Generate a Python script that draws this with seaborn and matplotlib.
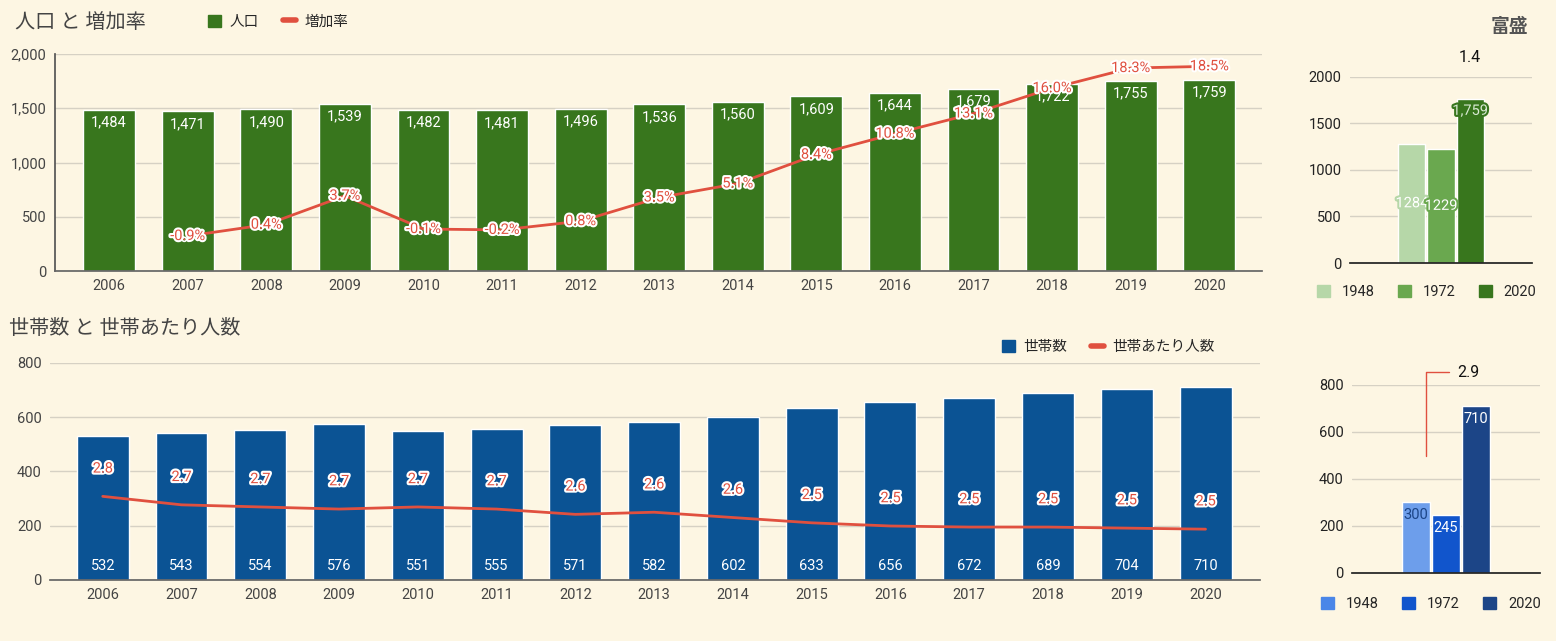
import numpy as np
import pandas as pd
import matplotlib
matplotlib.use("Agg")
import matplotlib.pyplot as plt
import matplotlib.patheffects as pe
from matplotlib.patches import Patch
from matplotlib.lines import Line2D
import seaborn as sns

# data
years = [str(y) for y in range(2006, 2021)]
population = [1484, 1471, 1490, 1539, 1482, 1481, 1496, 1536, 1560, 1609, 1644, 1679, 1722, 1755, 1759]
growth_years = years[1:]
growth_rate = [-0.9, 0.4, 3.7, -0.1, -0.2, 0.8, 3.5, 5.1, 8.4, 10.8, 13.1, 16.0, 18.3, 18.5]
households = [532, 543, 554, 576, 551, 555, 571, 582, 602, 633, 656, 672, 689, 704, 710]
per_household = [2.79, 2.71, 2.69, 2.67, 2.69, 2.67, 2.62, 2.64, 2.59, 2.54, 2.51, 2.50, 2.50, 2.49, 2.48]

cmp_years = ["1948", "1972", "2020"]
cmp_population = [1284, 1229, 1759]
cmp_households = [300, 245, 710]
cmp_pop_ratio = 1.4
cmp_hh_ratio = 2.9

BG = "#fdf6e3"
GRID = "#d6d1c4"
GREEN = "#38761d"
BLUE = "#0b5394"
RED = "#e0503f"
TXT = "#444444"
greens = ["#b6d7a8", "#6aa84f", "#38761d"]
blues = ["#6d9eeb", "#1155cc", "#1c4587"]
blues_leg = ["#4a86e8", "#1155cc", "#1c4587"]

sns.set_theme(style="white")
plt.rcParams["font.family"] = ["Roboto", "Noto Sans CJK JP", "DejaVu Sans"]
plt.rcParams["axes.facecolor"] = BG
plt.rcParams["figure.facecolor"] = BG

fig = plt.figure(figsize=(15.56, 6.41), dpi=100)
halo = [pe.withStroke(linewidth=3, foreground="white")]


def style_axis(ax, left_spine):
    ax.yaxis.grid(True, color=GRID, lw=1)
    ax.set_axisbelow(True)
    for s in ["top", "right"]:
        ax.spines[s].set_visible(False)
    ax.spines["left"].set_visible(left_spine)
    ax.spines["left"].set_color("#555555")
    ax.spines["bottom"].set_color("#666666")
    ax.tick_params(axis="both", length=0, labelsize=10.5, colors=TXT, pad=6)
    ax.set_xlabel("")
    ax.set_ylabel("")


# --- 人口 と 増加率
ax1 = fig.add_axes([0.0353, 0.5772, 0.7757, 0.3385])
df1 = pd.DataFrame({"year": years, "pop": population})
sns.barplot(data=df1, x="year", y="pop", color=GREEN, width=0.66, saturation=1, ax=ax1)
ax1.set_ylim(0, 2000)
ax1.set_yticks([0, 500, 1000, 1500, 2000])
ax1.set_yticklabels([f"{v:,}" for v in [0, 500, 1000, 1500, 2000]])
style_axis(ax1, True)
for p, v in zip(ax1.containers[0], population):
    ax1.annotate(f"{v:,}", (p.get_x() + p.get_width() / 2, p.get_height()), xytext=(0, -9),
                 textcoords="offset points", ha="center", va="center", color="white", fontsize=10.5)

ax1b = ax1.twinx()
gx = [years.index(y) for y in growth_years]
sns.lineplot(x=gx, y=growth_rate, color=RED, lw=2, ax=ax1b)
ax1b.set_ylim(-4.9, 19.9)
ax1b.set_axis_off()
for x, v in zip(gx, growth_rate):
    ax1b.annotate(f"{v:.1f}%", (x, v), ha="center", va="center", color=RED, fontsize=10.5, path_effects=halo)
ax1.set_xlim(-0.69, 14.67)

fig.text(15 / 1556, 1 - 22 / 641, "人口 と 増加率", fontsize=14.5, color=TXT, va="center")
fig.legend(handles=[Patch(color=GREEN, label="人口"), Line2D([], [], color=RED, lw=4, label="増加率")],
           loc="center left", bbox_to_anchor=(195 / 1556, 1 - 22 / 641), ncol=2, frameon=False,
           fontsize=10.5, handlelength=0.9, handleheight=0.9, handletextpad=0.6, columnspacing=1.6)

# --- 世帯数 と 世帯あたり人数
ax2 = fig.add_axes([0.0321, 0.0952, 0.7776, 0.3385])
df2 = pd.DataFrame({"year": years, "hh": households})
sns.barplot(data=df2, x="year", y="hh", color=BLUE, width=0.66, saturation=1, ax=ax2)
ax2.set_ylim(0, 800)
ax2.set_yticks([0, 200, 400, 600, 800])
style_axis(ax2, False)
for p, v in zip(ax2.containers[0], households):
    ax2.annotate(f"{v}", (p.get_x() + p.get_width() / 2, 0), xytext=(0, 10),
                 textcoords="offset points", ha="center", va="center", color="white", fontsize=10.5)

ax2b = ax2.twinx()
hx = list(range(len(years)))
sns.lineplot(x=hx, y=per_household, color=RED, lw=2, ax=ax2b)
ax2b.set_ylim(2.0, 4.05)
ax2b.set_axis_off()
for x, v in zip(hx, per_household):
    ax2b.annotate(f"{v:.1f}", (x, v), xytext=(0, 20), textcoords="offset points",
                  ha="center", va="center", color=RED, fontsize=10.5, path_effects=halo)
ax2.set_xlim(-0.67, 14.69)

fig.text(9 / 1556, 1 - 329 / 641, "世帯数 と 世帯あたり人数", fontsize=14.5, color=TXT, va="center")
fig.legend(handles=[Patch(color=BLUE, label="世帯数"), Line2D([], [], color=RED, lw=4, label="世帯あたり人数")],
           loc="center right", bbox_to_anchor=(1228 / 1556, 1 - 347 / 641), ncol=2, frameon=False,
           fontsize=10.5, handlelength=0.9, handleheight=0.9, handletextpad=0.6, columnspacing=1.6)

# --- 富盛 (population)
ax3 = fig.add_axes([0.8676, 0.5897, 0.117, 0.2902])
df3 = pd.DataFrame({"g": ["富盛"] * 3, "year": cmp_years, "pop": cmp_population})
sns.barplot(data=df3, x="g", y="pop", hue="year", palette=greens, width=0.48, gap=0.07,
            saturation=1, legend=False, ax=ax3)
ax3.set_ylim(0, 2000)
ax3.set_yticks([0, 500, 1000, 1500, 2000])
style_axis(ax3, False)
ax3.spines["bottom"].set_color("#222222")
ax3.set_xticks([])
ax3.tick_params(axis="y", colors="#222222", labelsize=10.5)
bars3 = [c[0] for c in ax3.containers]
lab3 = [("1284", 0.5, "white", "#b6d7a8"), ("1229", 0.5, "white", "#6aa84f"), ("1,759", 0.93, "#d9ead3", "#38761d")]
for p, (t, f, c, e) in zip(bars3, lab3):
    ax3.text(p.get_x() + p.get_width() / 2, p.get_height() * f, t, ha="center", va="center",
             color=c, fontsize=10.5, path_effects=[pe.withStroke(linewidth=3, foreground=e)])
p = bars3[2]
ax3.annotate(f"{cmp_pop_ratio:.1f}", (p.get_x() + p.get_width() / 2, 1.107), xycoords=("data", "axes fraction"),
             ha="center", va="center", fontsize=11.5, color="#111111")
ax3.legend(handles=[Patch(color=c, label=y) for c, y in zip(greens, cmp_years)], loc="center",
           bbox_to_anchor=(0.42, -0.156), ncol=3, frameon=False, fontsize=10.5, handlelength=0.9,
           handleheight=0.9, handletextpad=0.8, columnspacing=1.6)
fig.text(1528 / 1556, 1 - 27 / 641, "富盛", ha="right", va="center", fontsize=13.5, weight="bold", color="#555555")

# --- 富盛 (households)
ax4 = fig.add_axes([0.8689, 0.1061, 0.1208, 0.2933])
df4 = pd.DataFrame({"g": ["富盛"] * 3, "year": cmp_years, "hh": cmp_households})
sns.barplot(data=df4, x="g", y="hh", hue="year", palette=blues, width=0.48, gap=0.07,
            saturation=1, legend=False, ax=ax4)
ax4.set_ylim(0, 800)
ax4.set_yticks([0, 200, 400, 600, 800])
style_axis(ax4, False)
ax4.spines["bottom"].set_color("#222222")
ax4.set_xticks([])
ax4.tick_params(axis="y", colors="#222222", labelsize=10.5)
bars4 = [c[0] for c in ax4.containers]
lab4 = ["#1c4587", "white", "white"]
for p, v, c in zip(bars4, cmp_households, lab4):
    ax4.annotate(f"{v}", (p.get_x() + p.get_width() / 2, p.get_height()), xytext=(0, -9),
                 textcoords="offset points", ha="center", va="center", color=c, fontsize=10.5)
p = bars4[0]
xa = p.get_x() + p.get_width() * 0.85
ax4.annotate(f"{cmp_hh_ratio:.1f}", xy=(xa, 498), xytext=(xa + 0.17, 855),
             ha="left", va="center", fontsize=11.5, color="#111111", annotation_clip=False,
             arrowprops=dict(arrowstyle="-", color=RED, lw=1, shrinkA=4, shrinkB=0,
                             connectionstyle="angle,angleA=0,angleB=90,rad=0"))
ax4.legend(handles=[Patch(color=c, label=y) for c, y in zip(blues_leg, cmp_years)], loc="center",
           bbox_to_anchor=(0.42, -0.165), ncol=3, frameon=False, fontsize=10.5, handlelength=0.9,
           handleheight=0.9, handletextpad=0.8, columnspacing=1.6)

fig.savefig("out.png", dpi=100, facecolor=BG)
